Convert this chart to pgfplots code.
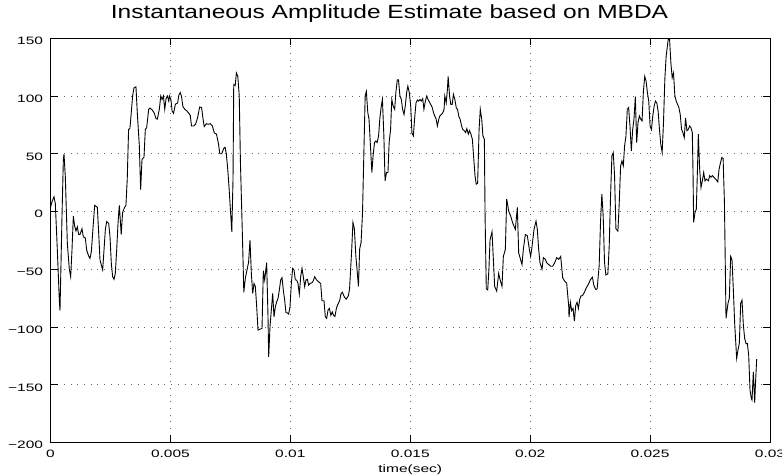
\documentclass[border=0pt]{standalone}
\usepackage{fontspec}
\setmainfont{Liberation Sans}
\newfontfamily\tickfont{Liberation Sans}[FakeStretch=1.45]
\newfontfamily\titlefont{Liberation Sans}[FakeStretch=1.29]
\usepackage{pgfplots}
\pgfplotsset{compat=1.18}

\begin{document}
\begin{tikzpicture}
\begin{axis}[
  name=ax,
  scale only axis, width=719.5pt, height=404pt,
  xmin=0, xmax=0.03, ymin=-200, ymax=150,
  xtick={0,0.005,0.01,0.015,0.02,0.025,0.03},
  xticklabels={0,0.005,0.01,0.015,0.02,0.025,0.03},
  ytick={-200,-150,-100,-50,0,50,100,150},
  yticklabels={−200,−150,−100,−50,0,50,100,150},
  scaled x ticks=false, scaled y ticks=false,
  tick align=inside, major tick length=7pt,
  tick style={black, line width=0.6pt},
  axis line style={black, line width=0.8pt},
  grid=major,
  major grid style={black!60, line width=0.5pt, dash pattern=on 0.8pt off 5.9pt},
  ticklabel style={font=\tickfont\fontsize{10.7}{12}\selectfont, inner sep=0pt},
  xticklabel style={anchor=base, yshift=-15.4pt},
  yticklabel style={anchor=base east, xshift=-7.2pt, yshift=-6.5pt},
  title={Instantaneous Amplitude Estimate based on MBDA},
  title style={font=\titlefont\fontsize{19}{22}\selectfont, at={(axis description cs:0.4712,1)}, anchor=base, yshift=13.3pt, inner sep=0pt},
  xlabel={time(sec)},
  xlabel style={font=\tickfont\fontsize{10.7}{12}\selectfont, at={(axis description cs:0.5,0)}, anchor=base, yshift=-30.4pt, inner sep=0pt},
]
\addplot[black, line width=0.9pt] table {
0.000000 3.5
0.000063 8.4
0.000146 12.7
0.000201 6.9
0.000285 -33.5
0.000368 -76.8
0.000396 -86
0.000480 -3.8
0.000535 44.5
0.000563 49.7
0.000618 30
0.000702 -27.6
0.000785 -50
0.000841 -56.6
0.000896 -33.5
0.000952 -4
0.001008 -12.7
0.001063 -17
0.001119 -13.3
0.001175 -20
0.001230 -20
0.001313 -15
0.001369 -22
0.001452 -23
0.001508 -33.5
0.001592 -38.7
0.001647 -40.7
0.001703 -34.9
0.001786 -10.3
0.001842 5.3
0.001897 4.5
0.001953 3.5
0.002008 -18.2
0.002064 -42
0.002119 -46.4
0.002175 -50.6
0.002231 -33.5
0.002286 -16
0.002342 -8.8
0.002425 -10.3
0.002481 -21.8
0.002536 -45
0.002592 -56.6
0.002648 -58.8
0.002703 -53.6
0.002759 -33.5
0.002815 -10.3
0.002870 5.3
0.002949 -20
0.003005 -1
0.003088 3.5
0.003144 5
0.003200 28
0.003256 71
0.003312 72
0.003368 85.6
0.003424 100
0.003479 107
0.003563 108
0.003619 85.6
0.003703 57
0.003759 19
0.003815 45
0.003898 47
0.003954 71
0.004010 72.6
0.004094 88.5
0.004150 89.6
0.004234 88
0.004317 85.6
0.004401 80.4
0.004457 80
0.004541 89
0.004597 100
0.004653 97
0.004708 100
0.004764 88.5
0.004820 98
0.004876 100
0.004932 95.6
0.00496 100
0.00502 97
0.00507 87
0.00513 85
0.00521 93
0.00530 94
0.00535 100.6
0.00541 103
0.00546 100
0.00552 91
0.00560 88.5
0.00569 87
0.00577 85
0.00583 83
0.00588 74
0.00597 74
0.00605 75.5
0.00613 81
0.00622 90.5
0.00630 90
0.00636 80
0.00641 73.5
0.00650 76
0.00658 75.5
0.00666 76
0.00675 74
0.00683 68
0.00692 67
0.00700 59
0.00706 50
0.00714 50
0.00722 54.5
0.00728 55.6
0.00733 50
0.00739 36.6
0.00745 19
0.00750 2
0.00756 -17.6
0.00761 28
0.00764 110
0.00770 109
0.00775 120
0.00781 117
0.00787 100
0.00792 42
0.00798 -4
0.00803 -44
0.00806 -70
0.00812 -58.5
0.00817 -53
0.00826 -44
0.008318 -24.8
0.008374 -53.6
0.008430 -71
0.008485 -62.4
0.008541 -65
0.008596 -82
0.008652 -102.8
0.008735 -102
0.008819 -101.4
0.008874 -51.4
0.008930 -59.4
0.009013 -44.4
0.009069 -91.3
0.009097 -126
0.009152 -99.9
0.009208 -85.5
0.009264 -71
0.009319 -91.3
0.009375 -82.6
0.009430 -78.3
0.009486 -75.4
0.009541 -68.2
0.009597 -59.5
0.009653 -57.4
0.009708 -68.2
0.009764 -76.9
0.009819 -87.8
0.009875 -87.8
0.009931 -88.9
0.009986 -82.6
0.010042 -62.4
0.010097 -49.3
0.010153 -50.6
0.010209 -59.4
0.010264 -59.4
0.010320 -62.4
0.010375 -71.6
0.010431 -56.6
0.010487 -49.3
0.010542 -56.6
0.010598 -65.2
0.010653 -59.4
0.010709 -58.8
0.010764 -63.9
0.010820 -62.4
0.010904 -61.7
0.010959 -60.1
0.011015 -56.6
0.011098 -59.4
0.011181 -61
0.011265 -62.4
0.011320 -77.4
0.011404 -77.4
0.011459 -91.3
0.011515 -92.7
0.011571 -85.5
0.011626 -84
0.01169 -90
0.01175 -87
0.01180 -90
0.01186 -91
0.01192 -84
0.01197 -81
0.01206 -77
0.01211 -71.5
0.01217 -70
0.01225 -74
0.01233 -76
0.01242 -73
0.01247 -67
0.01256 -32.6
0.01261 -9.5
0.01267 -15
0.01273 -38
0.01278 -50
0.01284 -65
0.01289 -32.6
0.01295 -27
0.01301 -1
0.01306 45
0.01312 100
0.01317 104
0.01323 85.6
0.01328 80
0.01334 57
0.01340 33.7
0.01345 48
0.01351 59.7
0.01356 61
0.01362 59.7
0.01368 65.4
0.01373 80
0.01379 91
0.01384 97
0.01390 65.4
0.01395 26.5
0.01401 33.7
0.01407 33.7
0.01412 59.7
0.01418 71
0.01423 97
0.01429 91
0.01435 88.5
0.01440 103
0.01446 114
0.01451 114
0.01457 100
0.01463 97
0.01468 88.5
0.01474 84
0.01479 91
0.01485 103
0.01490 108.6
0.01496 103
0.01502 91
0.01507 68
0.01513 65.4
0.01518 80
0.01524 94
0.01530 96.5
0.01535 95.6
0.01541 97
0.01546 95.6
0.01552 97.7
0.01557 88.5
0.01563 95.6
0.01569 100
0.01574 97
0.01580 94.8
0.01585 92.8
0.01591 90.5
0.01597 85.6
0.01602 82.7
0.01608 80
0.01613 74
0.01619 80
0.01624 83
0.01630 84
0.01636 85.6
0.01641 88.5
0.01644 100
0.01650 94
0.01655 105.8
0.01658 117
0.01664 100
0.01669 92.8
0.01675 92.8
0.01680 101.4
0.01686 97
0.01692 89.6
0.01697 88.5
0.01703 82
0.01708 80
0.01714 74
0.01719 71
0.01725 70
0.01731 68.3
0.01736 71.8
0.01742 67
0.01747 70
0.01753 67
0.01759 62.5
0.01764 48
0.01770 31
0.01775 23.6
0.01781 24.5
0.01787 71
0.01792 88.5
0.01798 80
0.01803 65.4
0.01809 62.5
0.01812 -4
0.01817 -67
0.01823 -68
0.01828 -50
0.018326 -24.8
0.018409 -17.6
0.018520 -65
0.018604 -69
0.018687 -53.7
0.018743 -59
0.018826 -65
0.018882 -39
0.018965 -33
0.019021 10.7
0.019104 0.3
0.019188 -4
0.019271 -10
0.019382 -15.6
0.019465 3.5
0.019521 -36
0.019604 -42
0.019660 -46
0.019715 -33
0.019799 -20
0.019882 -21
0.019966 -33
0.020021 -39
0.020077 -30.5
0.020160 -15.6
0.020244 -8.4
0.020299 -15.6
0.020355 -33
0.020410 -44.5
0.020494 -50
0.020550 -40
0.020633 -41.5
0.020689 -44.5
0.020772 -46
0.020855 -47.5
0.020939 -47.5
0.021022 -44.5
0.021105 -40
0.021189 -41.5
0.021272 -39
0.021356 -57.6
0.021439 -60.5
0.021522 -62
0.021606 -82
0.021620 -91.6
0.021676 -78.7
0.021732 -86
0.021788 -84
0.021844 -95
0.021899 -81.5
0.021955 -78.7
0.022011 -84
0.022067 -76
0.022123 -73
0.022179 -73
0.022262 -70
0.022346 -66
0.022430 -63
0.022514 -59
0.022598 -57
0.022654 -64
0.022737 -67.7
0.022793 -67
0.022877 -47
0.022933 -9.5
0.022989 15
0.023045 -4
0.023100 -44
0.023156 -55
0.023240 -54
0.023296 -29.7
0.023352 13.5
0.023408 48
0.023464 51
0.023519 31
0.023575 -15
0.023659 -17
0.023715 7.8
0.023771 39.5
0.023827 43.8
0.023883 39.5
0.023938 56.8
0.023994 65.4
0.024050 88.5
0.024106 90
0.024162 74
0.024218 52.4
0.024274 71
0.024329 80
0.024385 99.4
0.024441 59.7
0.024497 77
0.024553 82.7
0.024609 80
0.024665 78.4
0.024721 104
0.024776 117
0.024832 113
0.024888 103
0.024944 95.6
0.025000 74
0.025056 71
0.025112 82.7
0.025168 91
0.025223 95.6
0.025279 94
0.025335 87
0.025391 71
0.025447 58
0.025503 51
0.025559 77
0.025615 114.4
0.025670 134.6
0.025754 148.8
0.025810 150
0.025866 129
0.025922 115.8
0.025978 120
0.026033 100
0.026089 95.6
0.026145 92.8
0.026201 90
0.026257 84
0.026313 71
0.026369 68.3
0.026425 64
0.026480 81
0.026536 70
0.026592 71
0.026648 74
0.026704 72.6
0.026760 68.3
0.026788 36.6
0.026816 -9.5
0.026871 -1
0.026927 2
0.026983 42
0.027011 67
0.027067 36.6
0.027123 20.7
0.027179 26.5
0.027235 33.7
0.027290 26.5
0.027346 28
0.027430 26.5
0.027486 31
0.027542 29.7
0.027598 31
0.027654 29.7
0.027737 28
0.027821 25.6
0.027877 36.6
0.027933 42
0.027989 46.7
0.028045 46
0.028100 7.8
0.028166 -92.6
0.028249 -79.6
0.028305 -75
0.028360 -39
0.028416 -42
0.028472 -68
0.028527 -97
0.028610 -127.3
0.028666 -120
0.028722 -114
0.028777 -79.6
0.028833 -76.8
0.028889 -98.5
0.028944 -110
0.029000 -114.5
0.029055 -114.5
0.029111 -124.4
0.029166 -154.8
0.029222 -162
0.029250 -163.4
0.029305 -139
0.029361 -165.7
0.029389 -151.8
0.029444 -128
};
\end{axis}
\pgfresetboundingbox
\path ([xshift=-50.5pt,yshift=-33.7pt]ax.south west) rectangle ([xshift=12pt,yshift=38.3pt]ax.north east);
\end{tikzpicture}
\end{document}
